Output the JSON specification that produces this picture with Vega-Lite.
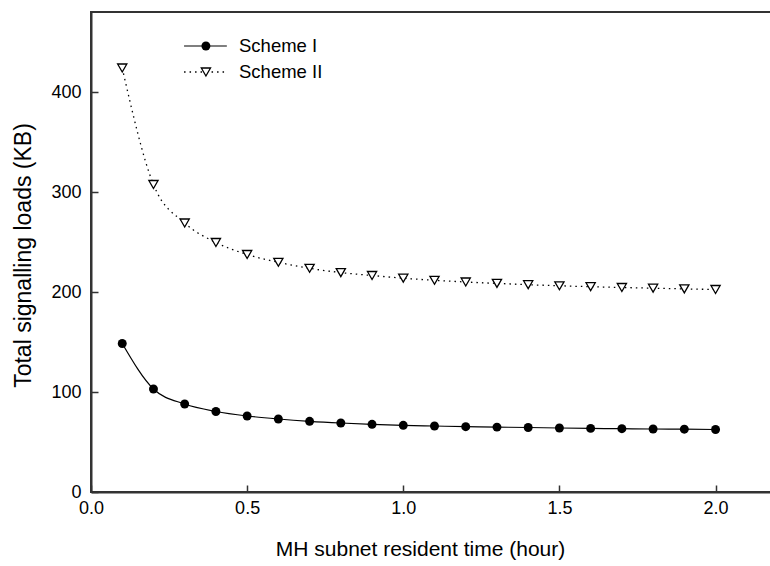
{
  "$schema": "https://vega.github.io/schema/vega-lite/v6.json",
  "autosize": {"type": "none"},
  "padding": {"left": 91, "top": 12, "right": 0, "bottom": 74},
  "width": 687,
  "height": 480,
  "background": "white",
  "config": {
    "font": "Liberation Sans",
    "view": {"stroke": "#333333", "strokeWidth": 2},
    "axis": {
      "grid": false,
      "domainColor": "#333333",
      "domainWidth": 2,
      "tickColor": "#333333",
      "tickWidth": 1.5,
      "tickSize": -7,
      "labelFlush": false,
      "labelOverlap": false,
      "labelFont": "Liberation Sans",
      "labelFontSize": 18,
      "labelColor": "black",
      "titleFont": "Liberation Sans",
      "titleFontSize": 21,
      "titleFontWeight": "normal",
      "titleColor": "black"
    }
  },
  "datasets": {
    "curves": [
      {"t": 0.1, "scheme": "Scheme I", "load": 148.5},
      {"t": 0.2, "scheme": "Scheme I", "load": 103},
      {"t": 0.3, "scheme": "Scheme I", "load": 88},
      {"t": 0.4, "scheme": "Scheme I", "load": 80.5},
      {"t": 0.5, "scheme": "Scheme I", "load": 76},
      {"t": 0.6, "scheme": "Scheme I", "load": 73},
      {"t": 0.7, "scheme": "Scheme I", "load": 70.7},
      {"t": 0.8, "scheme": "Scheme I", "load": 69},
      {"t": 0.9, "scheme": "Scheme I", "load": 67.7},
      {"t": 1.0, "scheme": "Scheme I", "load": 66.7},
      {"t": 1.1, "scheme": "Scheme I", "load": 66},
      {"t": 1.2, "scheme": "Scheme I", "load": 65.3},
      {"t": 1.3, "scheme": "Scheme I", "load": 64.9},
      {"t": 1.4, "scheme": "Scheme I", "load": 64.5},
      {"t": 1.5, "scheme": "Scheme I", "load": 64},
      {"t": 1.6, "scheme": "Scheme I", "load": 63.6},
      {"t": 1.7, "scheme": "Scheme I", "load": 63.3},
      {"t": 1.8, "scheme": "Scheme I", "load": 63},
      {"t": 1.9, "scheme": "Scheme I", "load": 62.8},
      {"t": 2.0, "scheme": "Scheme I", "load": 62.5},
      {"t": 0.1, "scheme": "Scheme II", "load": 424},
      {"t": 0.2, "scheme": "Scheme II", "load": 307.5},
      {"t": 0.3, "scheme": "Scheme II", "load": 269},
      {"t": 0.4, "scheme": "Scheme II", "load": 249.5},
      {"t": 0.5, "scheme": "Scheme II", "load": 237.5},
      {"t": 0.6, "scheme": "Scheme II", "load": 229.7},
      {"t": 0.7, "scheme": "Scheme II", "load": 223.7},
      {"t": 0.8, "scheme": "Scheme II", "load": 219.4},
      {"t": 0.9, "scheme": "Scheme II", "load": 216.5},
      {"t": 1.0, "scheme": "Scheme II", "load": 213.8},
      {"t": 1.1, "scheme": "Scheme II", "load": 211.7},
      {"t": 1.2, "scheme": "Scheme II", "load": 210},
      {"t": 1.3, "scheme": "Scheme II", "load": 208.6},
      {"t": 1.4, "scheme": "Scheme II", "load": 207.3},
      {"t": 1.5, "scheme": "Scheme II", "load": 206.2},
      {"t": 1.6, "scheme": "Scheme II", "load": 205.3},
      {"t": 1.7, "scheme": "Scheme II", "load": 204.5},
      {"t": 1.8, "scheme": "Scheme II", "load": 203.8},
      {"t": 1.9, "scheme": "Scheme II", "load": 203.1},
      {"t": 2.0, "scheme": "Scheme II", "load": 202.5}
    ],
    "legend1": [{"label": "Scheme I"}],
    "legend2": [{"label": "Scheme II"}]
  },
  "layer": [
    {
      "data": {"name": "curves"},
      "transform": [{"filter": "datum.scheme === 'Scheme I'"}],
      "mark": {"type": "line", "interpolate": "monotone", "color": "black", "strokeWidth": 1.2},
      "encoding": {
        "x": {
          "field": "t", "type": "quantitative",
          "scale": {"domain": [0, 2.2], "nice": false},
          "axis": {"values": [0, 0.5, 1.0, 1.5, 2.0], "format": ".1f", "labelPadding": 14, "title": "MH subnet resident time (hour)", "titleX": 329, "titleY": 46, "titleBaseline": "top"}
        },
        "y": {
          "field": "load", "type": "quantitative",
          "scale": {"domain": [0, 480], "nice": false},
          "axis": {"values": [0, 100, 200, 300, 400], "labelPadding": 17, "title": "Total signalling loads (KB)", "titleFontSize": 23, "titleX": -68, "titleY": 243, "titleAngle": -90, "titleBaseline": "middle", "titleAlign": "center"}
        }
      }
    },
    {
      "data": {"name": "curves"},
      "transform": [{"filter": "datum.scheme === 'Scheme II'"}],
      "mark": {"type": "line", "interpolate": "monotone", "color": "black", "strokeWidth": 1.3, "strokeDash": [1.5, 4]},
      "encoding": {"x": {"field": "t", "type": "quantitative"}, "y": {"field": "load", "type": "quantitative"}}
    },
    {
      "data": {"name": "curves"},
      "transform": [{"filter": "datum.scheme === 'Scheme I'"}],
      "mark": {"type": "point", "shape": "circle", "filled": true, "color": "black", "size": 80, "opacity": 1},
      "encoding": {"x": {"field": "t", "type": "quantitative"}, "y": {"field": "load", "type": "quantitative"}}
    },
    {
      "data": {"name": "curves"},
      "transform": [{"filter": "datum.scheme === 'Scheme II'"}],
      "mark": {"type": "point", "shape": "triangle-down", "filled": true, "fill": "white", "stroke": "black", "strokeWidth": 1.3, "size": 85, "opacity": 1},
      "encoding": {"x": {"field": "t", "type": "quantitative"}, "y": {"field": "load", "type": "quantitative"}}
    },
    {
      "data": {"name": "legend1"},
      "mark": {"type": "rule", "color": "black", "strokeWidth": 1.2},
      "encoding": {"x": {"datum": 0.298, "type": "quantitative"}, "x2": {"datum": 0.435}, "y": {"datum": 446, "type": "quantitative"}}
    },
    {
      "data": {"name": "legend1"},
      "mark": {"type": "point", "shape": "circle", "filled": true, "color": "black", "size": 80, "opacity": 1},
      "encoding": {"x": {"datum": 0.368, "type": "quantitative"}, "y": {"datum": 446, "type": "quantitative"}}
    },
    {
      "data": {"name": "legend1"},
      "mark": {"type": "text", "align": "left", "baseline": "middle", "fontSize": 18.5, "font": "Liberation Sans", "color": "black"},
      "encoding": {"x": {"datum": 0.474, "type": "quantitative"}, "y": {"datum": 446, "type": "quantitative"}, "text": {"field": "label"}}
    },
    {
      "data": {"name": "legend2"},
      "mark": {"type": "rule", "color": "black", "strokeWidth": 1.3, "strokeDash": [1.5, 4]},
      "encoding": {"x": {"datum": 0.298, "type": "quantitative"}, "x2": {"datum": 0.435}, "y": {"datum": 420, "type": "quantitative"}}
    },
    {
      "data": {"name": "legend2"},
      "mark": {"type": "point", "shape": "triangle-down", "filled": true, "fill": "white", "stroke": "black", "strokeWidth": 1.3, "size": 85, "opacity": 1},
      "encoding": {"x": {"datum": 0.368, "type": "quantitative"}, "y": {"datum": 420, "type": "quantitative"}}
    },
    {
      "data": {"name": "legend2"},
      "mark": {"type": "text", "align": "left", "baseline": "middle", "fontSize": 18.5, "font": "Liberation Sans", "color": "black"},
      "encoding": {"x": {"datum": 0.474, "type": "quantitative"}, "y": {"datum": 420, "type": "quantitative"}, "text": {"field": "label"}}
    }
  ]
}
